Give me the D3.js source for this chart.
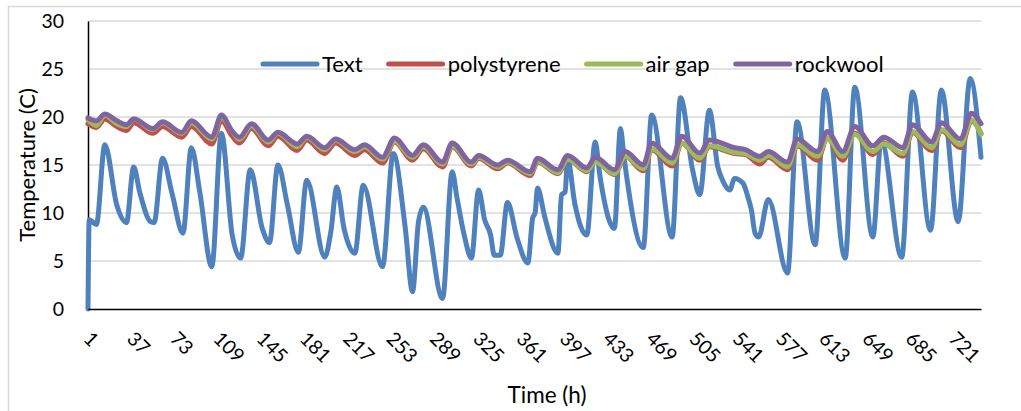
<!DOCTYPE html>
<html>
<head>
<meta charset="utf-8">
<script src="https://cdnjs.cloudflare.com/ajax/libs/d3/7.8.5/d3.min.js"></script>
<style>
  body { margin: 0; background: #fff; }
  text { font-family: Lato, "Open Sans", sans-serif; fill: #000; }
</style>
</head>
<body>
<div id="chart"></div>
<script>
// chart size
let svgWidth = 1021;
let svgHeight = 411;

// plot area (px)
let plot = { left: 88, right: 981, top: 21, bottom: 309 };

// series names and colours (legend order)
let seriesNames = ["Text", "polystyrene", "air gap", "rockwool"];
let seriesColors = ["#4F81BD", "#C0504D", "#9BBB59", "#8064A2"];

// x tick labels (hours)
let xTicks = [1, 37, 73, 109, 145, 181, 217, 253, 289, 325, 361, 397, 433, 469, 505, 541, 577, 613, 649, 685, 721];
let yTicks = [0, 5, 10, 15, 20, 25, 30];
let lastHour = 744;

// outside temperature at its turning points
let textHours = [1, 2, 8, 15, 25, 33, 39, 44, 53, 56, 63, 71, 80, 87, 94, 104, 112, 121, 128, 136,
  146, 152, 159, 167, 176, 183, 198, 203, 208, 214, 223, 230, 246, 255, 265, 271, 276, 280, 296, 304,
  308, 314, 320, 326, 331, 336, 339, 344, 350, 358, 367, 371, 373, 375, 381, 392, 395, 398, 400, 406,
  416, 423, 427, 439, 444, 447, 463, 470, 487, 494, 504, 510, 518, 525, 529, 535, 539, 546, 550, 553,
  556, 559, 567, 583, 591, 606, 614, 631, 639, 654, 661, 678, 687, 702, 711, 725, 735, 744];
let textTemps = [0, 9.3, 8.8, 17.1, 10.8, 9.0, 14.8, 12.2, 9.1, 9.0, 15.7, 12.0, 7.9, 16.8, 12.2, 4.4, 18.3, 7.7, 5.3, 14.5,
  8.4, 6.9, 15.0, 10.8, 5.9, 13.4, 5.4, 8.0, 12.7, 8.4, 5.8, 12.9, 4.4, 16.2, 8.4, 1.8, 9.1, 10.6, 1.1, 14.3,
  11.6, 7.7, 5.3, 12.4, 9.3, 7.7, 5.6, 5.6, 11.1, 7.4, 4.8, 9.5, 10.0, 12.6, 9.6, 5.8, 11.9, 12.2, 15.7, 11.0,
  7.7, 17.4, 13.8, 8.4, 18.8, 15.8, 6.4, 20.2, 7.5, 22.0, 14.5, 11.9, 20.7, 14.8, 13.4, 12.4, 13.6, 13.1, 11.7, 10.3,
  7.9, 7.5, 11.4, 3.75, 19.5, 6.7, 22.8, 5.3, 23.1, 7.5, 17.6, 5.4, 22.6, 8.2, 22.8, 9.1, 24.0, 15.8];

// inside temperatures for the three wall types, same turning points
let wallHours = [1, 8, 15, 25, 33, 39, 55, 63, 79, 87, 104, 112, 121, 127, 137, 151, 159, 175, 183, 198,
  207, 223, 231, 246, 256, 271, 280, 296, 304, 320, 326, 342, 350, 369, 375, 392, 400, 416, 423, 439,
  448, 463, 470, 487, 495, 510, 518, 539, 548, 560, 567, 583, 591, 608, 616, 629, 639, 654, 663, 679,
  687, 703, 711, 727, 736, 744];
let polystyrene = [19.3, 18.9, 19.8, 19.0, 18.6, 19.4, 18.3, 19.0, 17.9, 19.0, 17.2, 19.6, 18.0, 17.3, 18.8, 17.0, 18.0, 16.5, 17.6, 16.2,
  17.3, 16.0, 16.6, 15.2, 17.4, 15.5, 16.7, 14.8, 16.9, 14.9, 15.7, 14.6, 15.2, 13.9, 15.3, 14.1, 15.6, 14.3, 15.4, 14.0,
  15.9, 14.4, 16.6, 14.9, 17.3, 15.5, 16.9, 16.2, 16.1, 15.1, 15.8, 14.5, 17.0, 15.5, 17.8, 15.5, 18.3, 16.1, 17.3, 15.9,
  18.4, 16.5, 18.6, 16.8, 19.6, 18.3];
let airGap = [19.7, 19.1, 20.2, 19.3, 19.0, 19.8, 18.7, 19.4, 18.3, 19.4, 17.7, 20.0, 18.5, 17.7, 19.1, 17.4, 18.3, 16.9, 17.9, 16.6,
  17.6, 16.4, 16.9, 15.6, 17.5, 15.8, 16.9, 15.1, 17.0, 15.1, 15.8, 14.8, 15.3, 14.1, 15.4, 14.2, 15.6, 14.4, 15.3, 14.1,
  15.9, 14.6, 16.7, 15.2, 17.3, 15.7, 17.0, 16.3, 16.2, 15.5, 16.0, 14.8, 17.1, 15.9, 17.8, 15.9, 18.2, 16.4, 17.2, 16.2,
  18.5, 16.8, 18.7, 17.1, 19.7, 18.2];
let rockwool = [19.9, 19.6, 20.3, 19.6, 19.2, 19.8, 18.8, 19.5, 18.4, 19.6, 17.9, 20.2, 18.5, 17.9, 19.3, 17.6, 18.4, 17.2, 18.0, 16.8,
  17.7, 16.6, 17.1, 15.8, 17.8, 16.0, 17.1, 15.3, 17.3, 15.3, 16.0, 15.0, 15.5, 14.3, 15.7, 14.5, 16.0, 14.7, 15.8, 14.5,
  16.4, 15.0, 17.3, 15.7, 18.0, 16.25, 17.6, 16.8, 16.6, 15.9, 16.4, 15.3, 17.7, 16.4, 18.5, 16.4, 19.0, 17.0, 17.9, 16.8,
  19.2, 17.4, 19.4, 17.7, 20.4, 19.3];

let svg = d3.select("#chart")
  .append("svg")
  .attr("width", svgWidth)
  .attr("height", svgHeight);

// outer chart border
svg.append("rect")
  .attr("x", 8.5)
  .attr("y", 6.5)
  .attr("width", 1030)
  .attr("height", 420)
  .attr("fill", "none")
  .attr("stroke", "#D9D9D9")
  .attr("stroke-width", 1.5);

let xScale = d3.scaleLinear()
  .domain([1, lastHour])
  .range([plot.left, plot.right]);

let yScale = d3.scaleLinear()
  .domain([0, 30])
  .range([plot.bottom, plot.top]);

// horizontal gridlines
svg.append("g")
  .selectAll("line")
  .data(yTicks.filter(d => d > 0))
  .enter()
  .append("line")
  .attr("x1", plot.left)
  .attr("x2", plot.right)
  .attr("y1", d => yScale(d))
  .attr("y2", d => yScale(d))
  .attr("stroke", "#D9D9D9")
  .attr("stroke-width", 1.5);

// y axis
let leftAxis = d3.axisLeft(yScale).tickValues(yTicks).tickSize(0).tickPadding(24).tickSizeOuter(0);
let yAxis = svg.append("g")
  .attr("transform", `translate(${plot.left}, 0)`)
  .call(leftAxis);
yAxis.select(".domain").attr("stroke", "#000").attr("stroke-width", 1.5);
yAxis.selectAll("text")
  .attr("font-size", "19.5px")
  .attr("font-family", "Lato, sans-serif")
  .attr("fill", "#000");

// lines
let lineGroup = svg.append("g");
let allSeries = [
  textHours.map((h, i) => [h, textTemps[i]]),
  wallHours.map((h, i) => [h, polystyrene[i]]),
  wallHours.map((h, i) => [h, airGap[i]]),
  wallHours.map((h, i) => [h, rockwool[i]])
];
let line = d3.line()
  .curve(d3.curveMonotoneX)
  .x(d => xScale(d[0]))
  .y(d => yScale(d[1]));

allSeries.forEach(function(s, i) {
  lineGroup.append("path")
    .datum(s)
    .attr("d", line)
    .attr("fill", "none")
    .attr("stroke", seriesColors[i])
    .attr("stroke-width", 5)
    .attr("stroke-linejoin", "round")
    .attr("stroke-linecap", "round");
});

// x axis
let bottomAxis = d3.axisBottom(xScale).tickValues(xTicks).tickSize(0).tickSizeOuter(0).tickFormat(d3.format("d"));
let xAxis = svg.append("g")
  .attr("transform", `translate(0, ${plot.bottom})`)
  .call(bottomAxis);
xAxis.select(".domain").attr("stroke", "#000").attr("stroke-width", 1.5);
xAxis.selectAll("text")
  .attr("font-size", "19.5px")
  .attr("font-family", "Lato, sans-serif")
  .attr("fill", "#000")
  .attr("text-anchor", "start")
  .attr("dy", null)
  .attr("y", null)
  .attr("transform", "translate(-6, 31) rotate(45)");

// axis titles
svg.append("text")
  .attr("transform", `translate(35, ${(plot.top + plot.bottom) / 2}) rotate(-90)`)
  .attr("text-anchor", "middle")
  .attr("font-size", "22px")
  .text("Temperature (C)");

svg.append("text")
  .attr("x", 547)
  .attr("y", 403)
  .attr("text-anchor", "middle")
  .attr("font-size", "22.5px")
  .text("Time (h)");

// legend
let legendGroup = svg.append("g");
let legendX = 263;
let legendY = 64;
seriesNames.forEach(function(name, i) {
  legendGroup.append("line")
    .attr("x1", legendX)
    .attr("x2", legendX + 54)
    .attr("y1", legendY)
    .attr("y2", legendY)
    .attr("stroke", seriesColors[i])
    .attr("stroke-width", 5)
    .attr("stroke-linecap", "round");
  let label = legendGroup.append("text")
    .attr("x", legendX + 59)
    .attr("y", legendY + 7.5)
    .attr("font-size", "22px")
    .text(name);
  legendX += 59 + label.node().getComputedTextLength() + 26;
});
</script>
</body>
</html>
